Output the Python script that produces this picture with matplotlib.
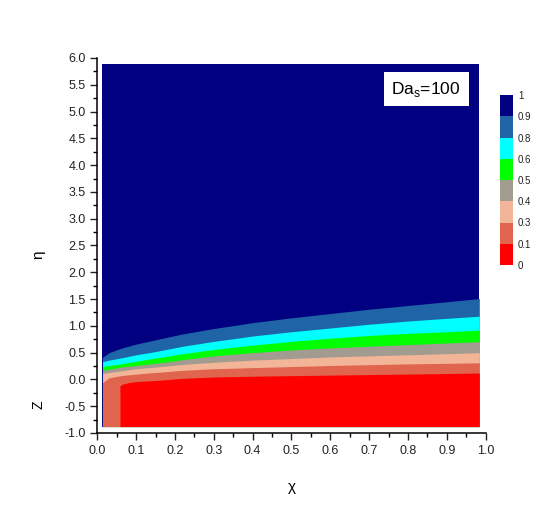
import numpy as np
import matplotlib
matplotlib.use('Agg')
import matplotlib.pyplot as plt
from matplotlib.colors import ListedColormap, BoundaryNorm
from matplotlib.ticker import MultipleLocator

plt.rcParams['font.family'] = ['Liberation Sans', 'DejaVu Sans']
plt.rcParams['mathtext.fontset'] = 'custom'
plt.rcParams['mathtext.rm'] = 'Liberation Sans'
plt.rcParams['axes.unicode_minus'] = False

# Contour levels and colours (from the colour scale)
levels = [0, 0.1, 0.3, 0.4, 0.5, 0.6, 0.8, 0.9, 1]
colors = ['#ff0000', '#e0644e', '#f2b597', '#a29c90', '#00ff00', '#00ffff', '#1e64a6', '#000080']

# extent of the computed field
chi_min, chi_max = 0.013, 0.984
eta_min, eta_max = -0.88, 5.88

# boundaries of the bands
chi = [0.013, 0.03, 0.06, 0.10, 0.15, 0.22, 0.30, 0.40, 0.50, 0.60, 0.70, 0.80, 0.90, 0.984]
eta_09 = [0.41, 0.50, 0.58, 0.66, 0.74, 0.85, 0.95, 1.06, 1.15, 1.23, 1.31, 1.38, 1.45, 1.51]
eta_08 = [0.33, 0.36, 0.40, 0.46, 0.52, 0.62, 0.71, 0.81, 0.89, 0.96, 1.03, 1.09, 1.14, 1.18]
eta_06 = [0.24, 0.26, 0.29, 0.34, 0.40, 0.48, 0.56, 0.64, 0.71, 0.77, 0.82, 0.86, 0.89, 0.92]
eta_05 = [0.165, 0.19, 0.23, 0.26, 0.30, 0.37, 0.44, 0.50, 0.55, 0.59, 0.62, 0.65, 0.68, 0.705]
eta_04 = [0.11, 0.13, 0.16, 0.20, 0.23, 0.28, 0.32, 0.36, 0.39, 0.42, 0.44, 0.46, 0.48, 0.50]
eta_03 = [-0.06, 0.03, 0.07, 0.10, 0.13, 0.17, 0.20, 0.22, 0.24, 0.26, 0.275, 0.29, 0.30, 0.31]

chi_red = [0.058, 0.064, 0.08, 0.10, 0.15, 0.22, 0.30, 0.40, 0.50, 0.60, 0.70, 0.80, 0.90, 0.984]
eta_01 = [-0.12, -0.09, -0.06, -0.04, -0.02, 0.02, 0.045, 0.06, 0.07, 0.08, 0.09, 0.10, 0.11, 0.12]

fig = plt.figure(figsize=(5.6, 5.14), dpi=100)
ax = fig.add_axes([0.174, 0.1576, 0.693, 0.7296])

# navy background, then bands from top to bottom
ax.fill_between([chi_min, chi_max], eta_min, eta_max, color=colors[7], lw=0)
bands = [eta_09, eta_08, eta_06, eta_05, eta_04, eta_03]
for i, b in enumerate(bands):
    ax.fill_between(chi, eta_min, b, color=colors[6 - i], lw=0)
ax.fill_between(chi_red, eta_min, eta_01, color=colors[0], lw=0)

ax.set_xlim(0, 1)
ax.set_ylim(-1, 6)
ax.spines['top'].set_visible(False)
ax.spines['right'].set_visible(False)
ax.spines['left'].set_linewidth(1.1)
ax.spines['bottom'].set_linewidth(1.1)
ax.xaxis.set_major_locator(MultipleLocator(0.1))
ax.xaxis.set_minor_locator(MultipleLocator(0.05))
ax.yaxis.set_major_locator(MultipleLocator(0.5))
ax.yaxis.set_minor_locator(MultipleLocator(0.25))
ax.xaxis.set_major_formatter('{x:.1f}')
ax.yaxis.set_major_formatter('{x:.1f}')
ax.tick_params(which='major', direction='out', length=5, width=1, labelsize=9, colors='#222222')
ax.tick_params(which='minor', direction='out', length=3, width=1)

ax.text(0.5, -0.144, 'χ', transform=ax.transAxes, ha='center', va='center', fontsize=11)
ax.text(-0.153, 2.32, 'η', transform=ax.get_yaxis_transform(), ha='center', va='center',
        rotation=90, fontsize=11)
ax.text(-0.153, -0.48, 'Z', transform=ax.get_yaxis_transform(), ha='center', va='center',
        rotation=90, fontsize=10)

ax.text(0.847, 5.42, r'Da$_\mathregular{s}$=100', ha='center', va='center', fontsize=12.5,
        bbox=dict(boxstyle='square,pad=0.45', fc='white', ec='none'))

# colour scale
cax = fig.add_axes([499.5 / 560, 1 - 265 / 514, 13 / 560, 170 / 514])
cmap = ListedColormap(colors)
norm = BoundaryNorm(np.arange(9), 8)
sm = plt.cm.ScalarMappable(cmap=cmap, norm=norm)
cb = fig.colorbar(sm, cax=cax, ticks=np.arange(9))
cb.ax.set_yticklabels([('%g' % v) for v in levels])
cb.outline.set_visible(False)
cb.ax.tick_params(length=0, labelsize=7, pad=4, labelcolor='#222222')

fig.savefig('out.png', dpi=100)
